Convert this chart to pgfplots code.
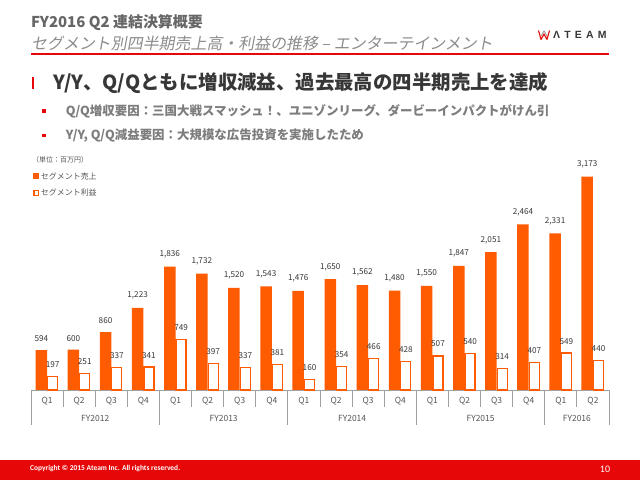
\documentclass[border=0pt]{standalone}
\usepackage{pgfplots}
\pgfplotsset{compat=1.18}
\usepackage{pgfplotstable}
\usepackage{fontspec}
\setmainfont{Noto Sans CJK JP}
\newfontfamily\cjksl[FakeSlant=0.18]{Noto Sans CJK JP}
\newfontfamily\carl{Carlito}
\newfontfamily\logofont[LetterSpace=40]{Liberation Sans}
\definecolor{sales}{RGB}{255,91,0}
\definecolor{ared}{RGB}{230,8,8}
\definecolor{tgray}{RGB}{102,102,102}
\definecolor{sgray}{RGB}{140,140,140}
\definecolor{hgray}{RGB}{55,55,55}
\definecolor{bgray}{RGB}{125,125,125}
\definecolor{agray}{RGB}{160,160,160}
\definecolor{lgray}{RGB}{85,85,85}

% xs / xp: centres of the sales and profit bars (category k at x = k)
\pgfplotstableread{
x xs xp sales slab profit plab
0 -0.179 0.174 594 594 197 197
1 0.821 1.174 600 600 251 251
2 1.821 2.174 860 860 337 337
3 2.821 3.174 1223 1,223 341 341
4 3.821 4.174 1836 1,836 749 749
5 4.821 5.174 1732 1,732 397 397
6 5.821 6.174 1520 1,520 337 337
7 6.821 7.174 1543 1,543 381 381
8 7.821 8.174 1476 1,476 160 160
9 8.821 9.174 1650 1,650 354 354
10 9.821 10.174 1562 1,562 466 466
11 10.821 11.174 1480 1,480 428 428
12 11.821 12.174 1550 1,550 507 507
13 12.821 13.174 1847 1,847 540 540
14 13.821 14.174 2051 2,051 314 314
15 14.821 15.174 2464 2,464 407 407
16 15.821 16.174 2331 2,331 549 549
17 16.821 17.174 3173 3,173 440 440
}\datatable

\begin{document}
\begin{tikzpicture}[x=1bp,y=1bp]
\path[use as bounding box] (0,0) rectangle (640,480);
\fill[white] (0,0) rectangle (640,480);
% header
\node[anchor=west, inner sep=0, font=\fontsize{15}{15}\selectfont\bfseries, text=tgray] at (31,457.3) {FY2016 Q2 連結決算概要};
\node[anchor=west, inner sep=0, font=\fontsize{16}{16}\cjksl, text=sgray] at (31,436.7) {セグメント別四半期売上高・利益の推移 – エンターテインメント};
\draw[ared, line width=2.2bp] (31,425.7) -- (609,425.7);
% logo
\draw[ared, line width=1.1bp, line join=round] (538.5,449.5) -- (541,440.5) -- (544,446) -- (547,440.5) -- (549.5,449.5);
\draw[bgray, line width=0.6bp] (541,444) -- (544,449) -- (547,444);
\node[anchor=west, inner sep=0, font={\fontsize{10.5}{10.5}\logofont\bfseries}, text=hgray] at (553,445.3) {ΛTEAM};
% headline
\fill[ared] (32.2,391) rectangle (34.4,403);
\node[anchor=west, inner sep=0, font=\fontsize{19.5}{19.5}\selectfont\bfseries, text=hgray] at (53,396.7) {Y/Y、Q/Qともに増収減益、過去最高の四半期売上を達成};
\fill[ared] (42.3,367.3) rectangle ++(3.4,3.4);
\node[anchor=west, inner sep=0, font=\fontsize{12.5}{12.5}\selectfont\bfseries, text=bgray] at (65.7,369) {Q/Q増収要因：三国大戦スマッシュ！、ユニゾンリーグ、ダービーインパクトがけん引};
\fill[ared] (42.3,342.6) rectangle ++(3.4,3.4);
\node[anchor=west, inner sep=0, font=\fontsize{12.5}{12.5}\selectfont\bfseries, text=bgray] at (65.7,344.3) {Y/Y, Q/Q減益要因：大規模な広告投資を実施したため};
% unit and legend
\node[anchor=west, inner sep=0, font=\fontsize{7}{7}\selectfont, text=lgray] at (32,320) {（単位：百万円）};
\fill[sales] (33.3,301) rectangle (39.3,307);
\node[anchor=west, inner sep=0, font=\fontsize{8}{8}\selectfont, text=lgray] at (40.7,304) {セグメント売上};
\draw[sales, fill=white, line width=1.2bp] (33.9,284.6) rectangle (38.7,289.6);
\node[anchor=west, inner sep=0, font=\fontsize{8}{8}\selectfont, text=lgray] at (40.7,287.3) {セグメント利益};
% chart
\begin{axis}[at={(31bp,90bp)}, anchor=south west, scale only axis,
  width=578bp, height=240bp, xmin=-0.5, xmax=17.5, ymin=0, ymax=3571,
  clip=false, hide y axis, axis x line*=bottom,
  x axis line style={draw=agray, line width=0.9bp},
  xtick={0,...,17},
  xticklabels={Q1,Q2,Q3,Q4,Q1,Q2,Q3,Q4,Q1,Q2,Q3,Q4,Q1,Q2,Q3,Q4,Q1,Q2},
  major tick length=0, xtick style={draw=none},
  xticklabel style={anchor=center, yshift=-11bp, font=\fontsize{8.5}{8.5}\selectfont, text=lgray},
  point meta=explicit symbolic, nodes near coords,
  every node near coord/.append style={anchor=south, yshift=8.3bp, inner sep=0, fill=none, draw=none, font=\fontsize{8.2}{8.2}\selectfont, text=hgray}]
\addplot[ybar, bar width=11.5bp, bar shift=0pt, fill=sales, draw=none] table[x=xs, y=sales, meta=slab]{\datatable};
\addplot[ybar, bar width=10bp, bar shift=0pt, fill=white, draw=sales, line width=1.2bp] table[x=xp, y=profit, meta=plab]{\datatable};
\pgfplotsinvokeforeach{0.5,1.5,2.5,4.5,5.5,6.5,8.5,9.5,10.5,12.5,13.5,14.5,16.5}{
  \draw[agray, line width=0.9bp] (axis cs:#1,0) -- ([yshift=-17.5bp]axis cs:#1,0);}
\pgfplotsinvokeforeach{-0.5,3.5,7.5,11.5,15.5,17.5}{
  \draw[agray, line width=0.9bp] (axis cs:#1,0) -- ([yshift=-35bp]axis cs:#1,0);}
\node[inner sep=0, font=\fontsize{8.5}{8.5}\selectfont, text=lgray] at ([yshift=-28.3bp]axis cs:1.5,0) {FY2012};
\node[inner sep=0, font=\fontsize{8.5}{8.5}\selectfont, text=lgray] at ([yshift=-28.3bp]axis cs:5.5,0) {FY2013};
\node[inner sep=0, font=\fontsize{8.5}{8.5}\selectfont, text=lgray] at ([yshift=-28.3bp]axis cs:9.5,0) {FY2014};
\node[inner sep=0, font=\fontsize{8.5}{8.5}\selectfont, text=lgray] at ([yshift=-28.3bp]axis cs:13.5,0) {FY2015};
\node[inner sep=0, font=\fontsize{8.5}{8.5}\selectfont, text=lgray] at ([yshift=-28.3bp]axis cs:16.5,0) {FY2016};
\end{axis}
% footer
\fill[ared] (0,0) rectangle (640,20);
\node[anchor=west, inner sep=0, font={\fontsize{7.5}{7.5}\carl\bfseries}, text=white] at (30,11) {Copyright © 2015 Ateam Inc. All rights reserved.};
\node[inner sep=0, font={\fontsize{10}{10}\carl}, text=white] at (605,11) {10};
\end{tikzpicture}
\end{document}
